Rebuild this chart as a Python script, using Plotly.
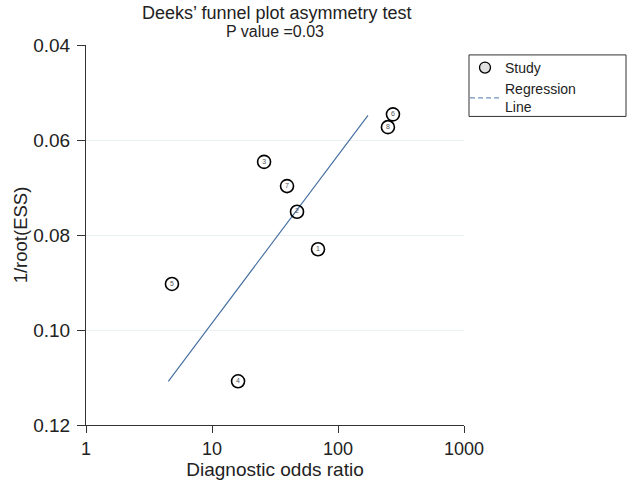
import plotly.graph_objects as go

# Study data (diagnostic odds ratio, 1/root(ESS))
study_ids = ["1", "2", "3", "4", "5", "6", "7", "8"]
dor = [69.4, 47.3, 25.9, 16.1, 4.81, 273, 39.4, 249]
inv_root_ess = [0.0830, 0.0751, 0.0646, 0.1108, 0.0903, 0.0546, 0.0697, 0.0573]

# Regression line endpoints
reg_x = [4.5, 173]
reg_y = [0.1108, 0.0548]

x_ticks = [1, 10, 100, 1000]
y_ticks = [0.04, 0.06, 0.08, 0.10, 0.12]

FONT = "Liberation Sans, Arial, Helvetica, sans-serif"
W, H = 629, 486
L, R, T, B = 86, 165, 45, 58
PW, PH = W - L - R, H - T - B


def px_x(p):
    return (p - L) / PW


def px_y(p):
    return (H - B - p) / PH


fig = go.Figure()

fig.add_trace(go.Scatter(
    x=reg_x, y=reg_y, mode="lines",
    line=dict(color="#3f6a9e", width=1.1),
    showlegend=False, hoverinfo="skip",
))

fig.add_trace(go.Scatter(
    x=dor, y=inv_root_ess, mode="markers+text",
    text=study_ids, textposition="middle center",
    textfont=dict(size=7, color="#555555", family=FONT),
    marker=dict(symbol="circle", size=13, color="rgba(255,255,255,0)",
                line=dict(color="black", width=1.6)),
    showlegend=False,
))

# legend entries
fig.add_trace(go.Scatter(
    x=[None], y=[None], mode="markers", name="Study",
    marker=dict(symbol="circle", size=11, color="#e0e0e0",
                line=dict(color="black", width=1.3)),
))
fig.add_trace(go.Scatter(
    x=[None], y=[None], mode="lines", name="Regression<br>Line",
    line=dict(color="#6f93c0", width=1.2, dash="5px,3px"),
))

fig.update_layout(
    width=W, height=H,
    margin=dict(l=L, r=R, t=T, b=B),
    paper_bgcolor="white", plot_bgcolor="white",
    font=dict(family=FONT, size=14, color="#222222"),
    title=dict(text="Deeks’ funnel plot asymmetry test",
               x=0.44, xanchor="center", y=1 - 13 / H, yanchor="middle",
               font=dict(size=18, family=FONT, color="#222222")),
    legend=dict(x=px_x(465), y=px_y(52), xanchor="left", yanchor="top",
                borderwidth=0, bgcolor="rgba(0,0,0,0)",
                font=dict(size=14, family=FONT), tracegroupgap=0),
    annotations=[dict(text="P value =0.03", xref="paper", yref="paper",
                      x=0.5, y=px_y(31), xanchor="center", yanchor="middle",
                      showarrow=False,
                      font=dict(size=16, family=FONT, color="#222222"))],
    shapes=[dict(type="rect", xref="paper", yref="paper",
                 x0=px_x(469), x1=px_x(626), y0=px_y(117), y1=px_y(55),
                 line=dict(color="#333333", width=1), fillcolor="rgba(0,0,0,0)")],
)

fig.update_xaxes(
    type="log", range=[0, 3], tickvals=x_ticks,
    ticktext=[str(v) for v in x_ticks],
    showline=True, linecolor="#333333", linewidth=1,
    ticks="outside", ticklen=7, tickcolor="#333333",
    showgrid=False, zeroline=False,
    title=dict(text="Diagnostic odds ratio", font=dict(size=19), standoff=2),
    tickfont=dict(size=18),
)
fig.update_yaxes(
    range=[0.12, 0.04], tickvals=y_ticks, tickformat=".2f",
    showline=True, linecolor="#333333", linewidth=1,
    ticks="outside", ticklen=8, tickcolor="#333333", ticklabelstandoff=3,
    showgrid=True, gridcolor="#e9f1f1", gridwidth=1, zeroline=False,
    title=dict(text="1/root(ESS)", font=dict(size=18.5), standoff=0),
    tickfont=dict(size=19),
)

fig.write_html("out.html")
